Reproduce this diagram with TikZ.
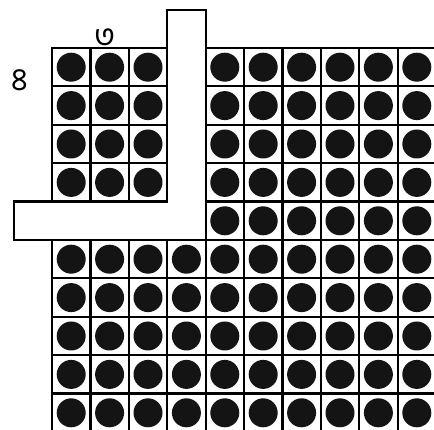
\documentclass[tikz,border=0pt]{standalone}
\usepackage{fontspec}
\newfontfamily\bengfont[Script=Bengali]{Hind Siliguri}
\tikzset{
  cellbox/.style={draw=black,line width=2.2pt},
  dot/.style={fill=black!92},
  lbar/.style={draw=black,line width=2.2pt,fill=white,line join=miter},
  lbl/.style={font=\bengfont\fontsize{32}{32}\selectfont,inner sep=0pt}
}
\begin{document}
\begin{tikzpicture}[x=1pt,y=-1pt]
\useasboundingbox (0,0) rectangle (434,430);
\def\s{38.4}
\foreach \i in {0,...,9}{
  \foreach \j in {0,...,9}{
    \pgfmathtruncatemacro{\skip}{((\i==3)&&(\j<=4)) || ((\i<=3)&&(\j==4)) ? 1 : 0}
    \ifnum\skip=0
      \draw[cellbox] ({52+\i*\s},{48+\j*\s}) rectangle ++(\s,\s);
      \fill[dot] ({52+(\i+0.5)*\s},{48+(\j+0.5)*\s}) circle (14.5);
    \fi
  }
}
\draw[lbar] (167.2,10) -- (205.6,10) -- (205.6,201.6) -- (205.6,240) -- (14,240) -- (14,201.6) -- (167.2,201.6) -- cycle;
\node[lbl] (top) at (105,38) {৩};
\node[lbl] (left) at (20,80) {৪};
\end{tikzpicture}
\end{document}
